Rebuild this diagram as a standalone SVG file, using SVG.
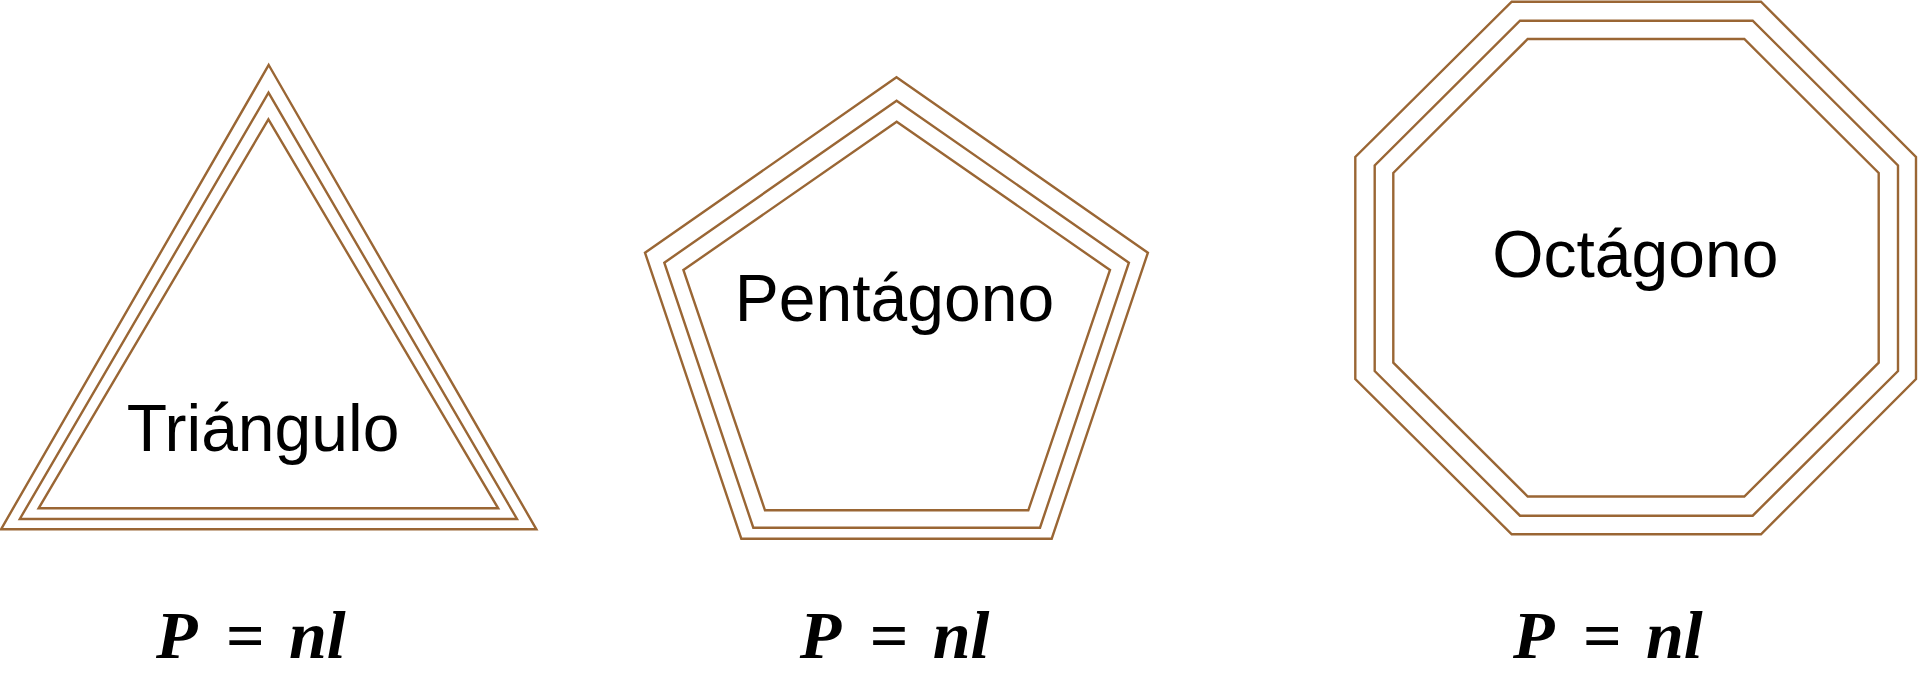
<svg xmlns="http://www.w3.org/2000/svg" width="1918" height="674" viewBox="0 0 1918 674">
<style>
.s{fill:none;stroke:#9a6634;stroke-width:2.4;stroke-linejoin:miter}
.lbl{font-family:"Liberation Sans",Arial,sans-serif;font-size:66px;fill:#000;text-anchor:middle}
.f{font-family:"Liberation Serif","Times New Roman",serif;font-size:68px;font-weight:bold;font-style:italic;fill:#000}
.eq{font-style:normal}
</style>
<rect width="1918" height="674" fill="#fff"/>
<g id="triangulo">
<polygon class="s" points="268.7,65 536.4,529.3 1,529.3"/>
<polygon class="s" points="268.5,92.7 517,519 19.8,519"/>
<polygon class="s" points="268.4,119.3 498.2,508.3 38.6,508.3"/>
<text class="lbl" x="263" y="451">Triángulo</text>
<text class="f" y="658.3"><tspan x="156">P</tspan><tspan class="eq" x="226">=</tspan><tspan x="289">nl</tspan></text>
</g>
<g id="pentagono">
<polygon class="s" points="896.5,77.3 1147.9,252.7 1051.7,538.7 741.3,538.7 645,252.7"/>
<polygon class="s" points="896.6,100.7 1128.9,262.7 1040,527.7 753.3,527.7 664.3,262.7"/>
<polygon class="s" points="896.7,121.7 1110,270 1028.3,510.3 765,510.3 683.4,270"/>
<text class="lbl" x="894.5" y="321">Pentágono</text>
<text class="f" y="658.3"><tspan x="799.7">P</tspan><tspan class="eq" x="869.7">=</tspan><tspan x="932.7">nl</tspan></text>
</g>
<g id="octagono">
<polygon class="s" points="1511.7,1.7 1761,1.7 1916,157 1916,379 1761,534.3 1511.7,534.3 1355.3,379 1355.3,157"/>
<polygon class="s" points="1520,20.7 1752.7,20.7 1898,165.5 1898,371 1752.7,515.7 1520,515.7 1374.7,371 1374.7,165.5"/>
<polygon class="s" points="1527.7,39 1744.3,39 1878.7,173 1878.7,362.7 1744.3,496.5 1527.7,496.5 1393.3,362.7 1393.3,173"/>
<text class="lbl" x="1635.3" y="276.7">Octágono</text>
<text class="f" y="658.3"><tspan x="1513">P</tspan><tspan class="eq" x="1583">=</tspan><tspan x="1646">nl</tspan></text>
</g>
<g id="connectors"/>
</svg>
